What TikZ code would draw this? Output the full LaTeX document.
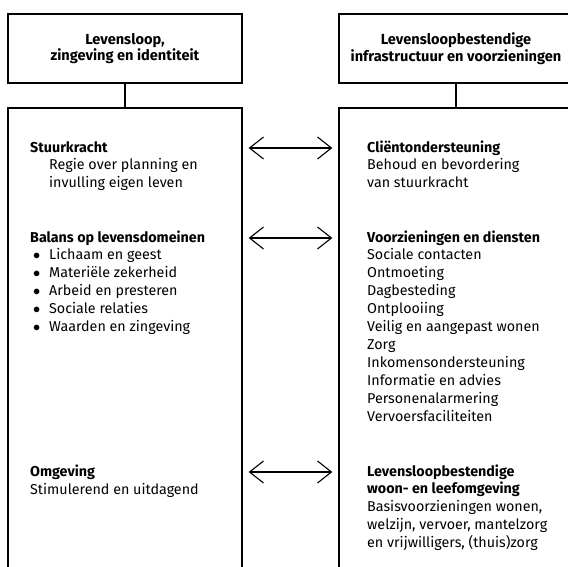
\documentclass[tikz,border=0pt]{standalone}
\usepackage{fontspec}
\setmainfont{Fira Sans}
\usetikzlibrary{arrows.meta}

\tikzset{
  kopbox/.style={draw, line width=1.3pt, minimum width=234pt, minimum height=69pt,
    inner sep=0pt, align=center, font=\bfseries\fontsize{14.6}{16.5}\selectfont},
  paneel/.style={draw, line width=1.3pt, minimum width=234pt, minimum height=492pt, inner sep=0pt},
  kopje/.style={anchor=base west, inner sep=0pt, text height=9pt, text depth=0pt,
    font=\bfseries\fontsize{14.3}{18}\selectfont},
  tekst/.style={anchor=north west, inner sep=0pt, align=left,
    font=\fontsize{14.3}{18}\selectfont, execute at begin node=\strut},
  pijl/.style={line width=1.1pt,
    {Straight Barb[length=14pt,width=22pt]}-{Straight Barb[length=14pt,width=22pt]},
    shorten <=6pt, shorten >=6pt}
}
\newcommand{\bol}{\hspace*{3pt}\makebox[16pt][l]{$\bullet$}}

\begin{document}
\begin{tikzpicture}[x=1pt, y=-1pt]
    \useasboundingbox (0,0) rectangle (568,567);
    \clip (0,0) rectangle (568,567);

    % kolommen
    \node[kopbox] (lkop) at (125,48.5) {Levensloop,\\zingeving en identiteit};
    \node[kopbox] (rkop) at (456,48.5) {Levensloopbestendige\\infrastructuur en voorzieningen};
    \node[paneel] (lpaneel) at (125,354) {};
    \node[paneel] (rpaneel) at (456,354) {};
    \draw[line width=1.3pt] (lkop) -- (lpaneel);
    \draw[line width=1.3pt] (rkop) -- (rpaneel);

    % links
    \node[kopje] (stuur) at (30,152.5) {Stuurkracht};
    \node[tekst] (stuurtxt) at ([yshift=-5.4pt]stuur.base west)
        {\hspace*{19pt}Regie over planning en\\\hspace*{19pt}invulling eigen leven};
    \node[kopje] (balans) at (30,242.5) {Balans op levensdomeinen};
    \node[tekst] (balanstxt) at ([yshift=-5.4pt]balans.base west)
        {\bol Lichaam en geest\\\bol Materiële zekerheid\\\bol Arbeid en presteren\\
         \bol Sociale relaties\\\bol Waarden en zingeving};
    \node[kopje] (omgeving) at (30,476.5) {Omgeving};
    \node[tekst] (omgevingtxt) at ([yshift=-5.4pt]omgeving.base west)
        {Stimulerend en uitdagend};

    % rechts
    \node[kopje] (client) at (367,152.5) {Cliëntondersteuning};
    \node[tekst] (clienttxt) at ([yshift=-5.4pt]client.base west)
        {Behoud en bevordering\\van stuurkracht};
    \node[kopje] (voorz) at (367,242.5) {Voorzieningen en diensten};
    \node[tekst] (voorztxt) at ([yshift=-5.4pt]voorz.base west)
        {Sociale contacten\\Ontmoeting\\Dagbesteding\\Ontplooiing\\
         Veilig en aangepast wonen\\Zorg\\Inkomensondersteuning\\
         Informatie en advies\\Personenalarmering\\Vervoersfaciliteiten};
    \node[kopje] (woon) at (367,476.5) {Levensloopbestendige};
    \node[tekst] (woontxt) at ([yshift=-5.4pt]woon.base west)
        {\textbf{woon- en leefomgeving}\\Basisvoorzieningen wonen,\\
         welzijn, vervoer, mantelzorg\\en vrijwilligers, (thuis)zorg};

    % pijlen
    \draw[pijl] (lpaneel.east |- stuur) -- (rpaneel.west |- stuur);
    \draw[pijl] (lpaneel.east |- balans) -- (rpaneel.west |- balans);
    \draw[pijl] (lpaneel.east |- omgeving) -- (rpaneel.west |- omgeving);
\end{tikzpicture}
\end{document}
